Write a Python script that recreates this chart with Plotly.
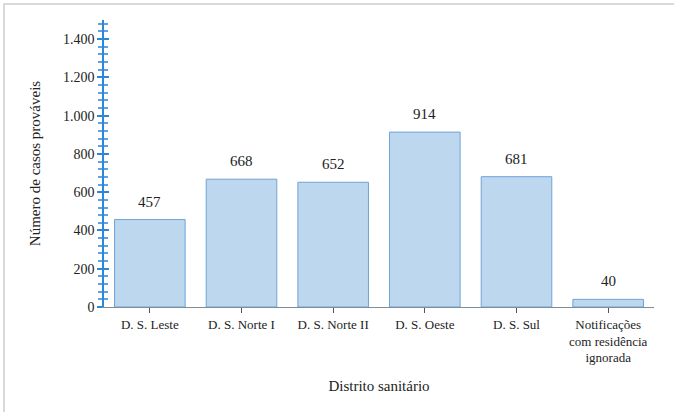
import plotly.graph_objects as go

# Casos prováveis por distrito sanitário
distritos = ["D. S. Leste", "D. S. Norte I", "D. S. Norte II", "D. S. Oeste",
             "D. S. Sul", "Notificações<br>com residência<br>ignorada"]
casos = [457, 668, 652, 914, 681, 40]

y_ticks = [0, 200, 400, 600, 800, 1000, 1200, 1400]

serif = "Liberation Serif"

fig = go.Figure()
fig.add_trace(go.Bar(
    x=distritos, y=casos,
    marker=dict(color="#BDD7EE", line=dict(color="#6FA3D8", width=1)),
    hovertemplate="%{x}: %{y}<extra></extra>",
))
# invisible companion trace so the inner-tick axis is rendered
fig.add_trace(go.Scatter(x=distritos, y=casos, yaxis="y2", mode="none",
                         hoverinfo="skip", showlegend=False))

# value labels above each bar
annotations = [dict(x=d, y=v, text=f"{v}", showarrow=False, yanchor="bottom",
                    yshift=8, font=dict(family=serif, size=15, color="#222"))
               for d, v in zip(distritos, casos)]

fig.update_layout(
    width=674, height=412,
    margin=dict(l=104, r=20, t=20, b=105),
    paper_bgcolor="white", plot_bgcolor="white",
    separators=",.",
    bargap=0.23,
    showlegend=False,
    font=dict(family=serif, size=13, color="#222"),
    annotations=annotations,
    xaxis=dict(
        showline=True, linecolor="#7f8c99", linewidth=1,
        ticks="outside", ticklen=5, tickcolor="#555",
        tickfont=dict(family=serif, size=13, color="#222"),
        title=dict(text="Distrito sanitário", font=dict(family=serif, size=15),
                   standoff=16),
        showgrid=False, automargin=False,
    ),
    yaxis=dict(
        range=[0, 1500], tickvals=y_ticks, tickformat=",d",
        showline=True, linecolor="#2E86D6", linewidth=1.5,
        ticks="outside", ticklen=5, tickcolor="#2E86D6", tickwidth=1.5,
        minor=dict(dtick=40, ticks="outside", ticklen=4, tickcolor="#5BA3E6"),
        tickfont=dict(family=serif, size=14, color="#222"),
        title=dict(text="Número de casos prováveis", font=dict(family=serif, size=15),
                   standoff=19),
        showgrid=False, zeroline=False, automargin=False,
    ),
    yaxis2=dict(
        overlaying="y", side="left", range=[0, 1500], tickvals=y_ticks,
        showticklabels=False, ticks="inside", ticklen=5, tickcolor="#2E86D6", tickwidth=1.5,
        minor=dict(dtick=40, ticks="inside", ticklen=4, tickcolor="#5BA3E6"),
        showline=False, showgrid=False, zeroline=False,
    ),
    shapes=[dict(type="rect", xref="paper", yref="paper",
                 x0=-0.1818, x1=1.2, y0=-0.5, y1=1.0557,
                 line=dict(color="#d9d9d9", width=2), layer="below")],
)

fig.write_html("out.html")
